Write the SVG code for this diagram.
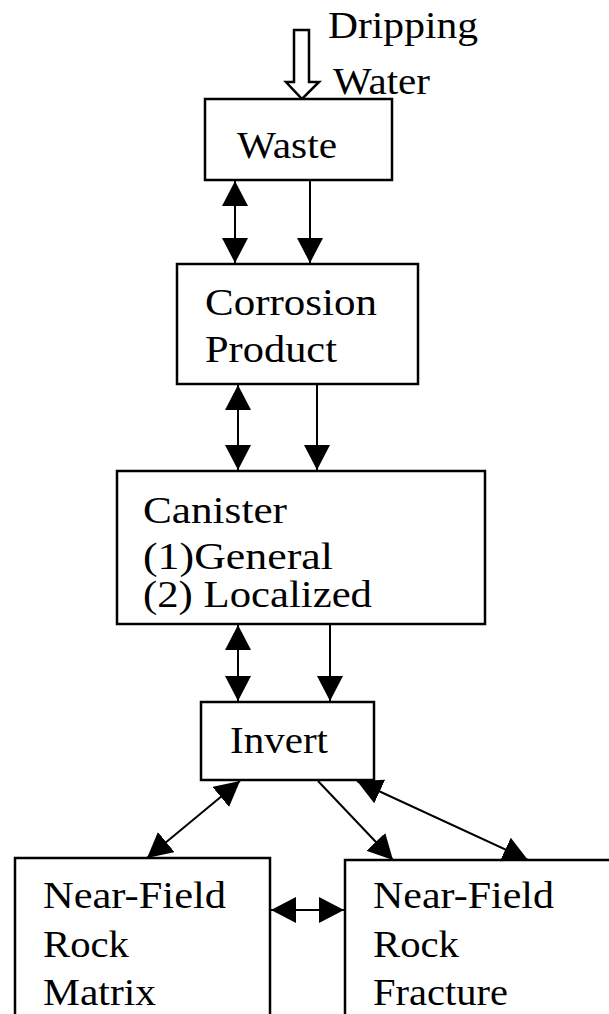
<svg xmlns="http://www.w3.org/2000/svg" width="609" height="1014" viewBox="0 0 609 1014">
<style>
.box{fill:#fff;stroke:#000;stroke-width:2.5}
.t{font-family:"Liberation Serif","Times New Roman",serif;font-size:37px;fill:#000}
.c{stroke:#000;stroke-width:2;fill:none}
.one{marker-end:url(#ah)}
.two{marker-start:url(#ah);marker-end:url(#ah)}
</style>
<defs>
<marker id="ah" markerUnits="userSpaceOnUse" markerWidth="25" markerHeight="26" viewBox="0 0 25 26" refX="25" refY="13" orient="auto-start-reverse">
<path d="M0,0 L25,13 L0,26 z" fill="#000"/>
</marker>
</defs>
<rect width="609" height="1014" fill="#fff"/>
<g id="dripping-water">
<polygon points="294,30 309,30 309,82 319,82 302,99 286,82 294,82" fill="#fff" stroke="#000" stroke-width="2.5" stroke-linejoin="miter"/>
<text class="t" x="328" y="38" textLength="150" lengthAdjust="spacingAndGlyphs">Dripping</text>
<text class="t" x="333" y="94" textLength="97" lengthAdjust="spacingAndGlyphs">Water</text>
</g>
<g id="waste">
<rect class="box" x="205" y="99" width="187" height="81"/>
<text class="t" x="237" y="158" textLength="100" lengthAdjust="spacingAndGlyphs">Waste</text>
</g>
<g id="corrosion-product">
<rect class="box" x="177" y="264" width="241" height="120"/>
<text class="t" x="205" y="315" textLength="172" lengthAdjust="spacingAndGlyphs">Corrosion</text>
<text class="t" x="205" y="362" textLength="132" lengthAdjust="spacingAndGlyphs">Product</text>
</g>
<g id="canister">
<rect class="box" x="117" y="471" width="368" height="153"/>
<text class="t" x="143" y="523" textLength="144" lengthAdjust="spacingAndGlyphs">Canister</text>
<text class="t" x="143" y="569" textLength="190" lengthAdjust="spacingAndGlyphs">(1)General</text>
<text class="t" x="143" y="607" textLength="229" lengthAdjust="spacingAndGlyphs">(2) Localized</text>
</g>
<g id="invert">
<rect class="box" x="201" y="702" width="173" height="78"/>
<text class="t" x="230" y="753" textLength="98" lengthAdjust="spacingAndGlyphs">Invert</text>
</g>
<g id="rock-matrix">
<rect class="box" x="15" y="858" width="255" height="170"/>
<text class="t" x="43" y="908" textLength="183" lengthAdjust="spacingAndGlyphs">Near-Field</text>
<text class="t" x="43" y="957" textLength="86" lengthAdjust="spacingAndGlyphs">Rock</text>
<text class="t" x="43" y="1005" textLength="113" lengthAdjust="spacingAndGlyphs">Matrix</text>
</g>
<g id="rock-fracture">
<rect class="box" x="345" y="860" width="280" height="170"/>
<text class="t" x="373" y="908" textLength="181" lengthAdjust="spacingAndGlyphs">Near-Field</text>
<text class="t" x="373" y="957" textLength="86" lengthAdjust="spacingAndGlyphs">Rock</text>
<text class="t" x="373" y="1005" textLength="135" lengthAdjust="spacingAndGlyphs">Fracture</text>
</g>
<g id="connectors">
<line class="c two" x1="235" y1="181" x2="235" y2="263"/>
<line class="c one" x1="310" y1="181" x2="310" y2="263"/>
<line class="c two" x1="238" y1="385" x2="238" y2="470"/>
<line class="c one" x1="317" y1="385" x2="317" y2="470"/>
<line class="c two" x1="238" y1="625" x2="238" y2="701"/>
<line class="c one" x1="330" y1="625" x2="330" y2="701"/>
<line class="c two" x1="240" y1="781" x2="147" y2="858"/>
<line class="c one" x1="318" y1="781" x2="393" y2="860"/>
<line class="c two" x1="357" y1="781" x2="528" y2="860"/>
<line class="c two" x1="271" y1="910" x2="344" y2="910"/>
</g>
</svg>
